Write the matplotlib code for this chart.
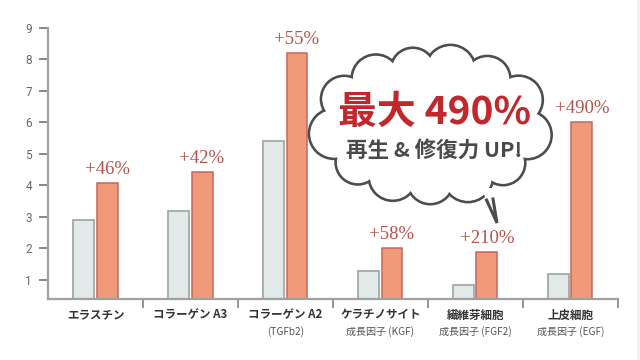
import numpy as np
import matplotlib
matplotlib.use("Agg")
import matplotlib.pyplot as plt
from matplotlib.patches import Circle, Ellipse, Polygon, Rectangle
import matplotlib.transforms as mtransforms

categories = ["エラスチン", "コラーゲン A3", "コラーゲン A2", "ケラチノサイト", "繊維芽細胞", "上皮細胞"]
sublabels = ["", "", "(TGFb2)", "成長因子 (KGF)", "成長因子 (FGF2)", "成長因子 (EGF)"]
before = [2.91, 3.18, 5.40, 1.29, 0.83, 1.18]
after = [4.08, 4.42, 8.20, 2.00, 1.88, 6.00]
increase = ["+46%", "+42%", "+55%", "+58%", "+210%", "+490%"]
yticks = [1, 2, 3, 4, 5, 6, 7, 8, 9]
headline = "最大 490%"
subline = "再生 & 修復力 UP!"

CJK = ["Noto Sans CJK JP", "DejaVu Sans"]

fig = plt.figure(figsize=(6.4, 3.6), dpi=100)
fig.patch.set_facecolor("white")
fig.patches.append(Rectangle((637 / 640, 0), 3 / 640, 1, transform=fig.transFigure,
                             facecolor="#edf1f8", edgecolor="none", zorder=0))

ax = fig.add_axes([48 / 640, 1 - 299.3 / 360, (617.7 - 48) / 640, (299.3 - 27.7) / 360])
x = np.arange(len(categories))
w = 0.22
off = 0.1225
ax.bar(x - off, before, width=w, bottom=0, color="#e1e9e9", edgecolor="#a3a9a9", linewidth=1.3, zorder=2)
ax.bar(x + off, after, width=w, bottom=0, color="#f09a7a", edgecolor="#c4675c", linewidth=1.1, zorder=2)

ax.set_xlim(-0.5, len(categories) - 0.5)
ax.set_ylim(0.388, 9)
for s in ["top", "right"]:
    ax.spines[s].set_visible(False)
for s in ["left", "bottom"]:
    ax.spines[s].set_color("#a0a0a0")
    ax.spines[s].set_linewidth(1.6)

ax.set_yticks(yticks)
ax.set_yticklabels([str(v) for v in yticks], family=["Roboto", "DejaVu Sans"], fontsize=8.5, color="#666666")
ax.tick_params(axis="y", length=6.5, width=1.1, color="#666666", pad=5)

ax.set_xticks(x)
ax.set_xticklabels([])
ax.tick_params(axis="x", which="major", length=0)
ax.set_xticks(np.arange(len(categories)) + 0.5, minor=True)
ax.tick_params(axis="x", which="minor", length=6.5, width=1.1, color="#777777", direction="out")

trans = mtransforms.blended_transform_factory(ax.transData, ax.transAxes)
for i, (c, s) in enumerate(zip(categories, sublabels)):
    ax.text(i, -0.058, c, transform=trans, ha="center", va="center", family=CJK,
            fontsize=8.3, fontweight="bold", color="#333333")
    if s:
        ax.text(i, -0.117, s, transform=trans, ha="center", va="center", family=CJK,
                fontsize=7.2, color="#555555")

for i, (v, lab) in enumerate(zip(after, increase)):
    ax.annotate(lab, (i + off, v), xytext=(0, 6.5), textcoords="offset points",
                ha="center", va="baseline", family="Liberation Serif", fontsize=13.5,
                color="#b5524b", zorder=5)

# cloud overlay in pixel coordinates
ov = fig.add_axes([0, 0, 1, 1], zorder=10)
ov.set_xlim(0, 640)
ov.set_ylim(360, 0)
ov.axis("off")

cx, cy, a, b = 431, 125, 98, 56
t = np.linspace(0, 2 * np.pi, 2000)
ex, ey = cx + a * np.cos(t), cy + b * np.sin(t)
seg = np.hypot(np.diff(ex), np.diff(ey))
cum = np.concatenate([[0], np.cumsum(seg)])
n = 13
targets = np.linspace(0, cum[-1], n, endpoint=False) + 10
idx = [np.searchsorted(cum, tt % cum[-1]) for tt in targets]
radii = [24, 22, 25, 23, 24, 22, 25, 23, 24, 22, 25, 23, 24]
centers = [(ex[k], ey[k]) for k in idx]
edge = "#4d4d4d"
for (px, py), r in zip(centers, radii):
    ov.add_patch(Circle((px, py), r, facecolor="white", edgecolor=edge, linewidth=2.2, zorder=1))
for (px, py), r in zip(centers, radii):
    ov.add_patch(Circle((px, py), r - 1.1, facecolor="white", edgecolor="none", zorder=2))
ov.add_patch(Ellipse((cx, cy), 2 * a + 10, 2 * b + 10, facecolor="white", edgecolor="none", zorder=2))
ov.add_patch(Polygon([(481, 188), (486.5, 200), (497, 223), (493, 199), (495, 188)],
                     closed=True, facecolor="white", edgecolor="none", zorder=3))
ov.plot([486.5, 497, 493], [200, 223, 199], color=edge, linewidth=2.2, zorder=4,
        solid_joinstyle="miter")

ov.text(434, 112, headline, ha="center", va="center", family=CJK, fontsize=28,
        fontweight="bold", color="#c1272d", zorder=6)
ov.text(434, 150, subline, ha="center", va="center", family=CJK, fontsize=15.5,
        fontweight="bold", color="#4a4a4a", zorder=6)

fig.savefig("out.png", dpi=100)
